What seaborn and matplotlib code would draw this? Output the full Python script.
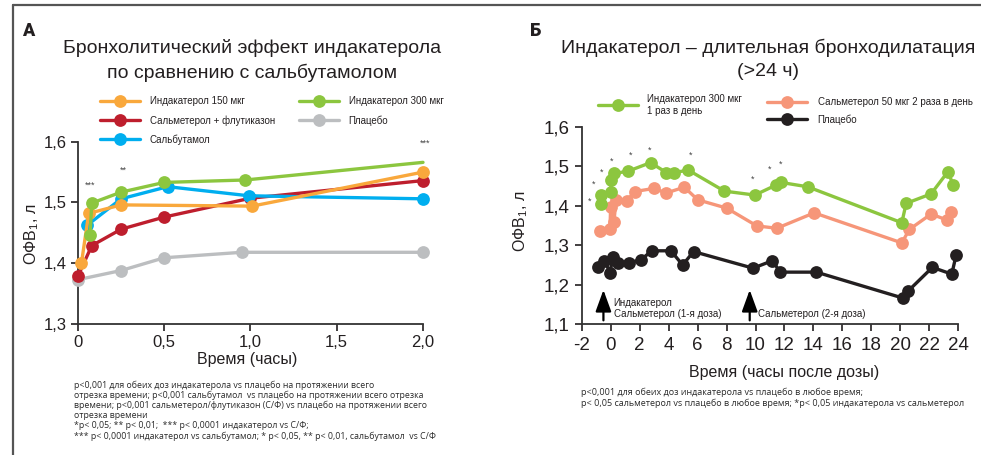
import matplotlib
matplotlib.use("Agg")
import matplotlib.pyplot as plt
from matplotlib.lines import Line2D
import seaborn as sns

# ---------------- Panel A: FEV1 over the first 2 hours ----------------
ind150_t = [0.02, 0.062, 0.25, 1.01, 2.0]
ind150_v = [1.400, 1.482, 1.496, 1.494, 1.550]

ind300_t = [0.07, 0.08, 0.25, 0.5, 0.97, 2.0]
ind300_v = [1.447, 1.499, 1.517, 1.533, 1.537, 1.566]

salb_t = [0.055, 0.25, 0.52, 0.99, 2.0]
salb_v = [1.463, 1.506, 1.526, 1.511, 1.506]

sf_t = [0.0, 0.08, 0.25, 0.5, 1.0, 2.0]
sf_v = [1.379, 1.429, 1.456, 1.476, 1.507, 1.536]

placA_t = [0.0, 0.25, 0.5, 0.95, 2.0]
placA_v = [1.373, 1.388, 1.409, 1.418, 1.418]

starsA_t = [0.07, 0.26, 0.08, 2.01]
starsA_v = [1.528, 1.553, 1.487, 1.597]
starsA_txt = ["***", "**", "**", "***"]

xticksA = [0, 0.5, 1.0, 1.5, 2.0]
xlabelsA = ["0", "0,5", "1,0", "1,5", "2,0"]
yticksA = [1.3, 1.4, 1.5, 1.6]
ylabelsA = ["1,3", "1,4", "1,5", "1,6"]

# ---------------- Panel B: FEV1 over 24 hours ----------------
indB_t = [-0.7, -0.67, 0.02, 0.02, 0.25, 1.17, 2.75, 3.85, 4.37, 5.37, 7.85, 9.95,
          11.4, 11.75, 13.6, 20.1, 20.4, 22.12, 23.28, 23.66]
indB_v = [1.405, 1.428, 1.436, 1.465, 1.482, 1.487, 1.509, 1.484, 1.484, 1.490, 1.437, 1.427,
          1.452, 1.459, 1.448, 1.357, 1.406, 1.430, 1.486, 1.452]

salmB_t = [-0.74, -0.05, 0.0, 0.23, 0.37, 1.11, 1.68, 3.01, 3.82, 5.08, 6.01, 8.01,
           10.09, 11.47, 14.05, 20.1, 20.62, 22.12, 23.21, 23.5]
salmB_v = [1.337, 1.340, 1.398, 1.360, 1.415, 1.413, 1.436, 1.444, 1.432, 1.447, 1.415, 1.394,
           1.349, 1.343, 1.382, 1.306, 1.340, 1.379, 1.364, 1.385]

placB_t = [-0.9, -0.44, -0.03, 0.14, 0.48, 1.28, 2.09, 2.83, 4.16, 4.97, 5.72, 9.83,
           11.17, 11.7, 14.2, 20.21, 20.56, 22.21, 23.55, 23.85]
placB_v = [1.246, 1.261, 1.231, 1.271, 1.254, 1.256, 1.263, 1.286, 1.286, 1.250, 1.284, 1.242,
           1.261, 1.232, 1.232, 1.166, 1.185, 1.244, 1.227, 1.275]

starsB_t = [-1.43, -1.17, -0.60, 0.09, 1.35, 2.66, 5.49, 9.83, 10.94, 11.70]
starsB_v = [1.412, 1.455, 1.486, 1.513, 1.528, 1.541, 1.528, 1.467, 1.492, 1.506]

dose_t = [-0.5, 9.6]
xticksB = list(range(-2, 25, 2))
xlabelsB = [str(v) for v in xticksB]
yticksB = [1.1, 1.2, 1.3, 1.4, 1.5, 1.6]
ylabelsB = ["1,1", "1,2", "1,3", "1,4", "1,5", "1,6"]

# ---------------- colours ----------------
c150 = "#F9A83C"
c300 = "#8CC63F"
csf = "#BE1E2D"
csalb = "#00AEEF"
cgrey = "#BCBEC0"
csalm = "#F69679"
cblack = "#231F20"
ink = "#231F20"

sns.set_theme(style="ticks")
plt.rcParams["font.family"] = ["Liberation Sans", "DejaVu Sans"]
plt.rcParams["mathtext.fontset"] = "custom"
plt.rcParams["mathtext.rm"] = "Liberation Sans"
plt.rcParams["mathtext.it"] = "Liberation Sans"
plt.rcParams["text.color"] = ink
plt.rcParams["axes.labelcolor"] = ink
plt.rcParams["xtick.color"] = ink
plt.rcParams["ytick.color"] = ink

W, H = 981, 455
fig = plt.figure(figsize=(W / 100, H / 100), dpi=100)
fig.patch.set_facecolor("white")


def fx(px):
    return px / W


def fy(py):
    return 1 - py / H


LW = 2.4
MS = 9.2


def series(ax, t, v, color, z, **kw):
    sns.lineplot(x=t, y=v, ax=ax, color=color, marker="o", markersize=MS,
                 markeredgewidth=0, linewidth=LW, sort=False, estimator=None,
                 clip_on=False, zorder=z, **kw)


def key(color):
    return Line2D([], [], color=color, lw=LW, marker="o", ms=MS, mew=0)


# ---------- frame lines ----------
fig.add_artist(Line2D([fx(13), 1], [fy(5), fy(5)], transform=fig.transFigure,
                      color="#555555", lw=1.6))
fig.add_artist(Line2D([fx(13), fx(13)], [fy(5), 0], transform=fig.transFigure,
                      color="#555555", lw=1.6))

# ================= Panel A =================
ax1 = fig.add_axes([fx(78), fy(324), (423 - 78) / W, (324 - 141.7) / H])
series(ax1, placA_t, placA_v, cgrey, 3)
series(ax1, sf_t, sf_v, csf, 4)
series(ax1, salb_t, salb_v, csalb, 5)
series(ax1, ind150_t, ind150_v, c150, 7)
series(ax1, ind300_t, ind300_v, c300, 8, markevery=[0, 1, 2, 3, 4])
for t, v, s in zip(starsA_t, starsA_v, starsA_txt):
    ax1.text(t, v, s, ha="center", va="center", fontsize=6.5, color="#444444", zorder=6)

ax1.set_xlim(0, 2.0)
ax1.set_ylim(1.3, 1.6)
ax1.set_xticks(xticksA, xlabelsA)
ax1.set_yticks(yticksA, ylabelsA)
ax1.tick_params(axis="both", direction="out", length=5, width=1.2, labelsize=12, pad=3)
for s in ["top", "right"]:
    ax1.spines[s].set_visible(False)
for s in ["left", "bottom"]:
    ax1.spines[s].set_linewidth(1.3)
    ax1.spines[s].set_color("#333333")
ax1.set_xlabel("Время (часы)", fontsize=11.5)
ax1.xaxis.set_label_coords((247.5 - 78) / 345, (324 - 352) / 182.3)
ax1.set_ylabel("ОФВ$_1$, л", fontsize=11.5)
ax1.yaxis.set_label_coords((31.7 - 78) / 345, (324 - 234) / 182.3)
ax1.yaxis.label.set_va("center")

fig.text(fx(22), fy(31), "A", fontsize=13, fontweight="heavy", ha="left", va="center",
         family=["Roboto", "Liberation Sans", "DejaVu Sans"])
fig.text(fx(252), fy(48), "Бронхолитический эффект индакатерола", fontsize=14,
         ha="center", va="center")
fig.text(fx(252), fy(73), "по сравнению с сальбутамолом", fontsize=14,
         ha="center", va="center")

handlesA = [key(c150), key(csf), key(csalb), key(c300), key(cgrey)]
labelsA = ["Индакатерол 150 мкг", "Сальметерол + флутиказон", "Сальбутамол",
           "Индакатерол 300 мкг", "Плацебо"]
fig.legend(handlesA, labelsA, loc="upper left", bbox_to_anchor=(fx(100), fy(96.5)),
           bbox_transform=fig.transFigure, ncol=2, frameon=False, fontsize=7,
           handlelength=4.1, handletextpad=1.0, columnspacing=2.5, labelspacing=0.88,
           borderpad=0, borderaxespad=0)

foot_A = [
    "p<0,001 для обеих доз индакатерола vs плацебо на протяжении всего",
    "отрезка времени; p<0,001 сальбутамол  vs плацебо на протяжении всего отрезка",
    "времени; p<0,001 сальметерол/флутиказон (С/Ф) vs плацебо на протяжении всего",
    "отрезка времени",
    "*p< 0,05; ** p< 0,01;  *** p< 0,0001 индакатерол vs С/Ф;",
    "*** p< 0,0001 индакатерол vs сальбутамол; * p< 0,05, ** p< 0,01, сальбутамол  vs С/Ф",
]
for i, line in enumerate(foot_A):
    fig.text(fx(74), fy(385 + i * 10.2), line, fontsize=6.3, ha="left", va="center",
             family=["Open Sans", "DejaVu Sans"], color="#2a2a2a")

# ================= Panel B =================
ax2 = fig.add_axes([fx(581.7), fy(324.3), (958.3 - 581.7) / W, (324.3 - 126.7) / H])
series(ax2, placB_t, placB_v, cblack, 3)
series(ax2, salmB_t, salmB_v, csalm, 4)
series(ax2, indB_t, indB_v, c300, 5)
for t, v in zip(starsB_t, starsB_v):
    ax2.text(t, v, "*", ha="center", va="center", fontsize=6.5, color="#444444", zorder=6)

for t in dose_t:
    ax2.annotate("", xy=(t, 1.187), xytext=(t, 1.110),
                 arrowprops=dict(arrowstyle="-|>,head_width=0.4,head_length=1.1",
                                 color="black", lw=1.6, shrinkA=0, shrinkB=0))
ax2.text(dose_t[0] + 0.7, 1.155, "Индакатерол", fontsize=7, ha="left", va="center")
ax2.text(dose_t[0] + 0.7, 1.126, "Сальметерол (1-я доза)", fontsize=7, ha="left", va="center")
ax2.text(dose_t[1] + 0.55, 1.126, "Сальметерол (2-я доза)", fontsize=7, ha="left", va="center")

ax2.set_xlim(-2, 24)
ax2.set_ylim(1.1, 1.6)
ax2.set_xticks(xticksB, xlabelsB)
ax2.set_yticks(yticksB, ylabelsB)
ax2.tick_params(axis="both", direction="out", length=5, width=1.2, labelsize=13.5, pad=4)
for s in ["top", "right"]:
    ax2.spines[s].set_visible(False)
for s in ["left", "bottom"]:
    ax2.spines[s].set_linewidth(1.3)
    ax2.spines[s].set_color("#333333")
ax2.set_xlabel("Время (часы после дозы)", fontsize=11.5)
ax2.xaxis.set_label_coords((784 - 581.7) / 376.6, (324.3 - 365) / 197.6)
ax2.set_ylabel("ОФВ$_1$, л", fontsize=11.5)
ax2.yaxis.set_label_coords((521 - 581.7) / 376.6, (324.3 - 221) / 197.6)
ax2.yaxis.label.set_va("center")

fig.text(fx(530), fy(31), "Б", fontsize=13, fontweight="heavy", ha="left", va="center",
         family=["Roboto", "Liberation Sans", "DejaVu Sans"])
fig.text(fx(768), fy(48), "Индакатерол – длительная бронходилатация", fontsize=14,
         ha="center", va="center")
fig.text(fx(768), fy(72), "(>24 ч)", fontsize=14, ha="center", va="center")

fig.legend([key(c300)], ["Индакатерол 300 мкг\n1 раз в день"], loc="upper left",
           bbox_to_anchor=(fx(598), fy(94)), bbox_transform=fig.transFigure,
           frameon=False, fontsize=7, handlelength=4.1, handletextpad=0.95,
           borderpad=0, borderaxespad=0)
fig.legend([key(csalm), key(cblack)],
           ["Сальметерол 50 мкг 2 раза в день", "Плацебо"], loc="upper left",
           bbox_to_anchor=(fx(767), fy(97)), bbox_transform=fig.transFigure,
           frameon=False, fontsize=7, handlelength=4.1, handletextpad=1.1,
           labelspacing=0.75, borderpad=0, borderaxespad=0)

foot_B = [
    "p<0,001 для обеих доз индакатерола vs плацебо в любое время;",
    "p< 0,05 сальметерол vs плацебо в любое время; *p< 0,05 индакатерола vs сальметерол",
]
for i, line in enumerate(foot_B):
    fig.text(fx(581), fy(392 + i * 11.6), line, fontsize=6.5, ha="left", va="center",
             family=["Open Sans", "DejaVu Sans"], color="#2a2a2a")

fig.savefig("out.png", dpi=100)
